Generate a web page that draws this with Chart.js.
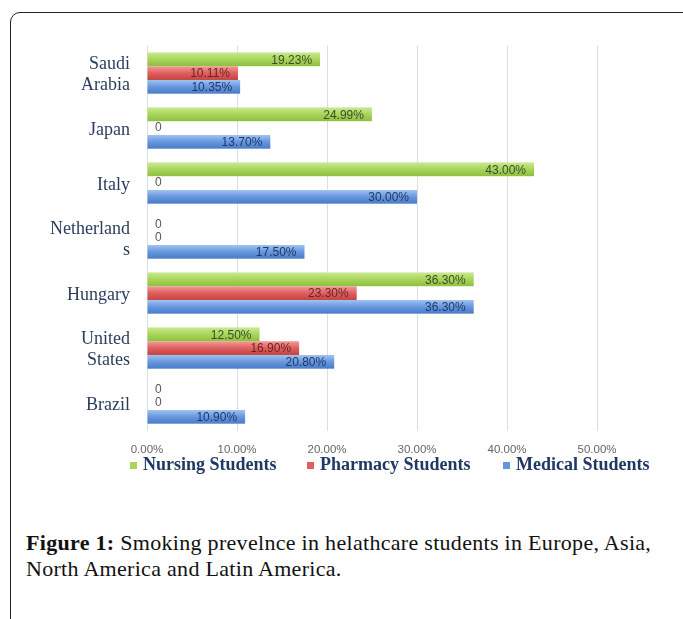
<!DOCTYPE html>
<html>
<head>
<meta charset="utf-8">
<script src="https://cdn.jsdelivr.net/npm/chart.js@4"></script>
<style>
  body { margin: 0; background: #fff; width: 683px; height: 619px; overflow: hidden; position: relative; }
  #frame { position: absolute; left: 10px; top: 12px; width: 720px; height: 700px; border: 1.5px solid #222; border-radius: 10px; }
  #c { position: absolute; left: 0; top: 0; }
  .leg { position: absolute; top: 454px; font: bold 18px "Liberation Serif", serif; color: #1f3864; white-space: nowrap; }
  .leg i { display: inline-block; width: 7px; height: 7px; margin-right: 6px; vertical-align: 1px; }
  #cap { position: absolute; left: 26px; top: 530px; font: 22px "Liberation Serif", serif; letter-spacing: 0.3px; line-height: 26px; color: #111; white-space: nowrap; }
</style>
</head>
<body>
<div id="frame"></div>
<canvas id="c" width="683" height="480"></canvas>
<div class="leg" style="left:130px"><i style="background:#a8d55a"></i>Nursing Students</div>
<div class="leg" style="left:307px"><i style="background:#e06060"></i>Pharmacy Students</div>
<div class="leg" style="left:503px"><i style="background:#6595de"></i>Medical Students</div>
<div id="cap"><b>Figure 1:</b> Smoking prevelnce in helathcare students in Europe, Asia,<br>North America and Latin America.</div>
<script>
var countries = [['Saudi', 'Arabia'], 'Japan', 'Italy', ['Netherland', 's'], 'Hungary', ['United', 'States'], 'Brazil'];
var nursing = [19.23, 24.99, 43.00, 0, 36.30, 12.50, 0];
var pharmacy = [10.11, 0, 0, 0, 23.30, 16.90, 0];
var medical = [10.35, 13.70, 30.00, 17.50, 36.30, 20.80, 10.90];

var labelColors = ['#3b4a2c', '#6b2424', '#1f3864'];
// top, middle, bottom shade of each series
var shades = [
  ['#cbea93', '#a9d65a', '#8fbf40'],
  ['#f29c9a', '#e06060', '#c44444'],
  ['#a2c4f3', '#6797df', '#4a7cc6']
];

var CAT_PCT = 0.75;

// vertical gradient repeated once per category band, lined up with each series' bar
function barFill(d) {
  var cache = null;
  return function(context) {
    var chart = context.chart;
    var ca = chart.chartArea;
    if (!ca) return shades[d][1];
    if (cache) return cache;
    var n = chart.data.labels.length;
    var nSets = chart.data.datasets.length;
    var band = (ca.bottom - ca.top) / n;
    var barH = band * CAT_PCT / nSets;
    var start = ca.top + band * (1 - CAT_PCT) / 2 + d * barH;
    var off = ((start % band) + band) % band;
    var pc = document.createElement('canvas');
    pc.width = 1;
    pc.height = Math.round(band);
    var p = pc.getContext('2d');
    p.fillStyle = shades[d][1];
    p.fillRect(0, 0, 1, pc.height);
    for (var k = -1; k <= 1; k++) {
      var y0 = off + k * pc.height;
      var g = p.createLinearGradient(0, y0, 0, y0 + barH);
      g.addColorStop(0, shades[d][0]);
      g.addColorStop(0.5, shades[d][1]);
      g.addColorStop(1, shades[d][2]);
      p.fillStyle = g;
      p.fillRect(0, y0, 1, barH);
    }
    cache = chart.ctx.createPattern(pc, 'repeat');
    return cache;
  };
}

// values written at the end of each bar, "0" next to the axis
var barLabels = {
  id: 'barLabels',
  afterDatasetsDraw: function(chart) {
    var ctx = chart.ctx;
    ctx.save();
    ctx.font = '12px "Liberation Sans", sans-serif';
    ctx.textBaseline = 'middle';
    chart.data.datasets.forEach(function(ds, d) {
      chart.getDatasetMeta(d).data.forEach(function(bar, i) {
        var v = ds.data[i];
        if (v === 0) {
          ctx.textAlign = 'left';
          ctx.fillStyle = '#555';
          ctx.fillText('0', bar.base + 8, bar.y);
        } else {
          ctx.textAlign = 'right';
          ctx.fillStyle = labelColors[d];
          ctx.fillText(v.toFixed(2) + '%', bar.x - 8, bar.y + 1);
        }
      });
    });
    ctx.restore();
  }
};

new Chart(document.getElementById('c'), {
  type: 'bar',
  data: {
    labels: countries,
    datasets: [
      { label: 'Nursing Students', data: nursing, backgroundColor: barFill(0) },
      { label: 'Pharmacy Students', data: pharmacy, backgroundColor: barFill(1) },
      { label: 'Medical Students', data: medical, backgroundColor: barFill(2) }
    ]
  },
  options: {
    indexAxis: 'y',
    responsive: false,
    animation: false,
    devicePixelRatio: 1,
    datasets: { bar: { barPercentage: 1, categoryPercentage: CAT_PCT } },
    layout: { padding: { top: 45.5, right: 86, left: 0, bottom: 0 } },
    plugins: { legend: { display: false }, tooltip: { enabled: false } },
    scales: {
      x: {
        min: 0, max: 50,
        grid: { color: '#d9dee8', drawTicks: false },
        border: { display: false },
        ticks: {
          stepSize: 10,
          padding: 12,
          color: '#666',
          font: { family: 'Liberation Sans', size: 11.5 },
          callback: function(v) { return v.toFixed(2) + '%'; }
        },
        afterFit: function(s) { s.height = 49.5; }
      },
      y: {
        grid: { display: false },
        border: { display: false },
        ticks: {
          padding: 9,
          labelOffset: 2,
          color: '#2c3e5e',
          font: { family: 'Liberation Serif', size: 18, lineHeight: 1.17 }
        },
        afterFit: function(s) { s.width = 147; }
      }
    }
  },
  plugins: [barLabels]
});
</script>
</body>
</html>
